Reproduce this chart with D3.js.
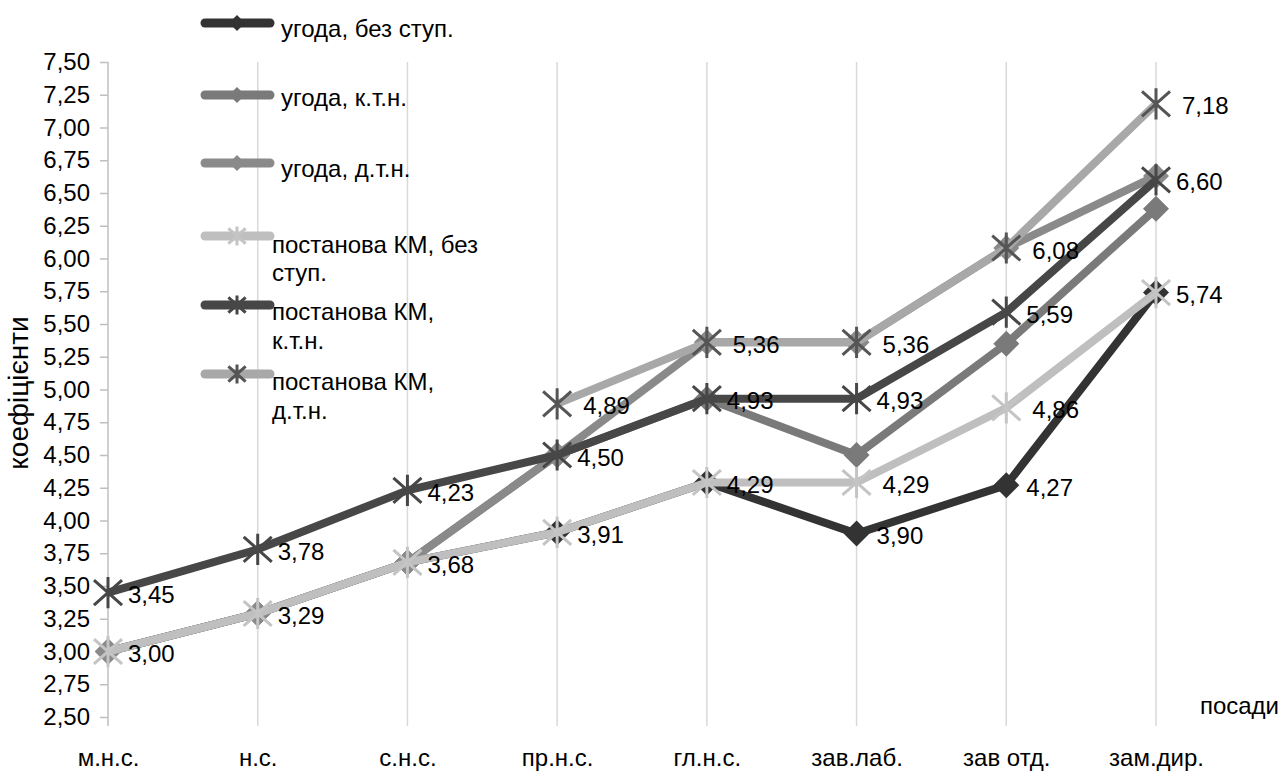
<!DOCTYPE html>
<html><head><meta charset="utf-8">
<script src="https://cdn.jsdelivr.net/npm/d3@7"></script>
<style>body{margin:0;background:#fff} svg text{font-family:"Liberation Sans",Arial,sans-serif;fill:#000}</style>
</head><body><svg id="c" width="1282" height="773"></svg>
<script>
// ---- data ----
const categories = ["м.н.с.","н.с.","с.н.с.","пр.н.с.","гл.н.с.","зав.лаб.","зав отд.","зам.дир."];
const seriesNames = ["угода, без ступ.","угода, к.т.н.","угода, д.т.н.","постанова КМ, без ступ.","постанова КМ, к.т.н.","постанова КМ, д.т.н."];
const ugodaBez = [3.00,3.29,3.68,3.91,4.29,3.90,4.27,5.74];
const ugodaKtn = [3.00,3.29,3.68,4.50,4.93,4.50,5.35,6.38];
const ugodaDtn = [3.00,3.29,3.68,4.50,5.36,5.36,6.08,6.63];
const postBez  = [3.00,3.29,3.68,3.91,4.29,4.29,4.86,5.74];
const postKtn  = [3.45,3.78,4.23,4.50,4.93,4.93,5.59,6.60];
const postDtn  = [null,null,null,4.89,5.36,5.36,6.08,7.18];
// which points carry a data label
const lblUgodaBez = [1,1,1,1,1,1,1,1];
const lblUgodaKtn = [0,0,0,0,0,0,0,0];
const lblUgodaDtn = [0,0,0,0,0,0,0,0];
const lblPostBez  = [0,0,0,0,0,1,1,0];
const lblPostKtn  = [1,1,1,1,1,1,1,1];
const lblPostDtn  = [0,0,0,1,1,1,1,1];
const yTicks = [2.5,2.75,3,3.25,3.5,3.75,4,4.25,4.5,4.75,5,5.25,5.5,5.75,6,6.25,6.5,6.75,7,7.25,7.5];
const yTitle = "коефіцієнти";
const xTitle = "посади";

// ---- styles ----
const seriesValues = [ugodaBez,ugodaKtn,ugodaDtn,postBez,postKtn,postDtn];
const seriesLabels = [lblUgodaBez,lblUgodaKtn,lblUgodaDtn,lblPostBez,lblPostKtn,lblPostDtn];
const styles = [
  {line:"#333333", marker:"#333333", shape:"diamond", lblDx:20},
  {line:"#7a7a7a", marker:"#7a7a7a", shape:"diamond", lblDx:20},
  {line:"#8a8a8a", marker:"#8a8a8a", shape:"diamond", lblDx:20},
  {line:"#bfbfbf", marker:"#c4c4c4", shape:"star", lblDx:26},
  {line:"#474747", marker:"#474747", shape:"star", lblDx:20},
  {line:"#a8a8a8", marker:"#555555", shape:"star", lblDx:26}
];
const FONT = '"Liberation Sans",Arial,sans-serif';

const svg = d3.select("#c");
const x = d3.scalePoint().domain(categories).range([108,1156]).padding(0);
const y = d3.scaleLinear().domain([2.5,7.5]).range([717,62]);
const fmt = v => d3.format(".2f")(v).replace(".",",");

// vertical gridlines
svg.append("g").selectAll("line").data(categories.slice(1)).join("line")
  .attr("x1",d=>x(d)).attr("x2",d=>x(d)).attr("y1",y(7.5)).attr("y2",y(2.5)+9)
  .attr("stroke","#d9d9d9").attr("stroke-width",1.5);

// y axis
const yAxis = svg.append("g").attr("transform",`translate(${x(categories[0])},0)`)
  .call(d3.axisLeft(y).tickValues(yTicks).tickFormat(fmt).tickSize(8).tickPadding(10));
yAxis.select(".domain").attr("stroke","#bfbfbf").attr("stroke-width",1.5)
  .attr("d",`M0,${y(7.5)}V${y(2.5)+9}`);
yAxis.selectAll(".tick line").attr("stroke","#bfbfbf").attr("stroke-width",1.5);
yAxis.selectAll(".tick text").attr("font-size",24).attr("fill","#000").style("font-family",FONT);

// x axis labels
const xAxis = svg.append("g").attr("transform",`translate(0,748)`)
  .call(d3.axisBottom(x).tickSize(0).tickPadding(0));
xAxis.select(".domain").remove();
xAxis.selectAll(".tick text").attr("dy",null).attr("y",9).attr("dominant-baseline","central")
  .attr("font-size",24).attr("fill","#000").style("font-family",FONT);

// titles
svg.append("text").attr("transform","translate(18,393) rotate(-90)").attr("text-anchor","middle")
  .attr("dominant-baseline","central").attr("font-size",28).text(yTitle);
svg.append("text").attr("x",1279).attr("y",705).attr("text-anchor","end")
  .attr("dominant-baseline","central").attr("font-size",24).text(xTitle);

function diamond(s){return `M0,${-s}L${s},0L0,${s}L${-s},0Z`;}
function star(s){const a=s*0.9,b=s*0.8;return `M0,${-s}V${s}M${-a},${-b}L${a},${b}M${-a},${b}L${a},${-b}`;}
function drawMarker(g,st,cx,cy,size){
  if(st.shape==="diamond"){
    g.append("path").attr("d",diamond(size)).attr("transform",`translate(${cx},${cy})`).attr("fill",st.marker);
  } else {
    g.append("path").attr("d",star(size*1.2)).attr("transform",`translate(${cx},${cy})`)
      .attr("fill","none").attr("stroke",st.marker).attr("stroke-width",3);
  }
}

// series
const line = d3.line().defined(d=>d.v!=null).x(d=>x(d.c)).y(d=>y(d.v));
seriesValues.forEach((vals,i)=>{
  const st = styles[i];
  const data = vals.map((v,j)=>({c:categories[j],v}));
  const g = svg.append("g");
  g.append("path").datum(data).attr("d",line).attr("fill","none")
    .attr("stroke",st.line).attr("stroke-width",8).attr("stroke-linejoin","round");
  data.filter(d=>d.v!=null).forEach(d=>drawMarker(g,st,x(d.c),y(d.v),13));
});

// data labels
seriesValues.forEach((vals,i)=>{
  const st = styles[i];
  vals.forEach((v,j)=>{
    if(v==null || !seriesLabels[i][j]) return;
    svg.append("text").attr("x",x(categories[j])+st.lblDx).attr("y",y(v)+2)
      .attr("dominant-baseline","central").attr("font-size",24).text(fmt(v));
  });
});

// legend
const legend = [
  {lineY:23, lines:[[281,28,"угода, без ступ."]]},
  {lineY:95, lines:[[281,97,"угода, к.т.н."]]},
  {lineY:163, lines:[[281,168,"угода, д.т.н."]]},
  {lineY:236, lines:[[272,244,"постанова КМ, без"],[272,272,"ступ."]]},
  {lineY:305, lines:[[272,311,"постанова КМ,"],[272,340,"к.т.н."]]},
  {lineY:374, lines:[[272,381,"постанова КМ,"],[272,410,"д.т.н."]]}
];
legend.forEach((L,i)=>{
  const st = styles[i];
  const g = svg.append("g");
  g.append("line").attr("x1",205).attr("x2",270).attr("y1",L.lineY).attr("y2",L.lineY)
    .attr("stroke",st.line).attr("stroke-width",9).attr("stroke-linecap","round");
  drawMarker(g,st,237,L.lineY,8);
  L.lines.forEach(t=>g.append("text").attr("x",t[0]).attr("y",t[1]).attr("dominant-baseline","central")
    .attr("font-size",24).text(t[2]));
});
</script></body></html>
